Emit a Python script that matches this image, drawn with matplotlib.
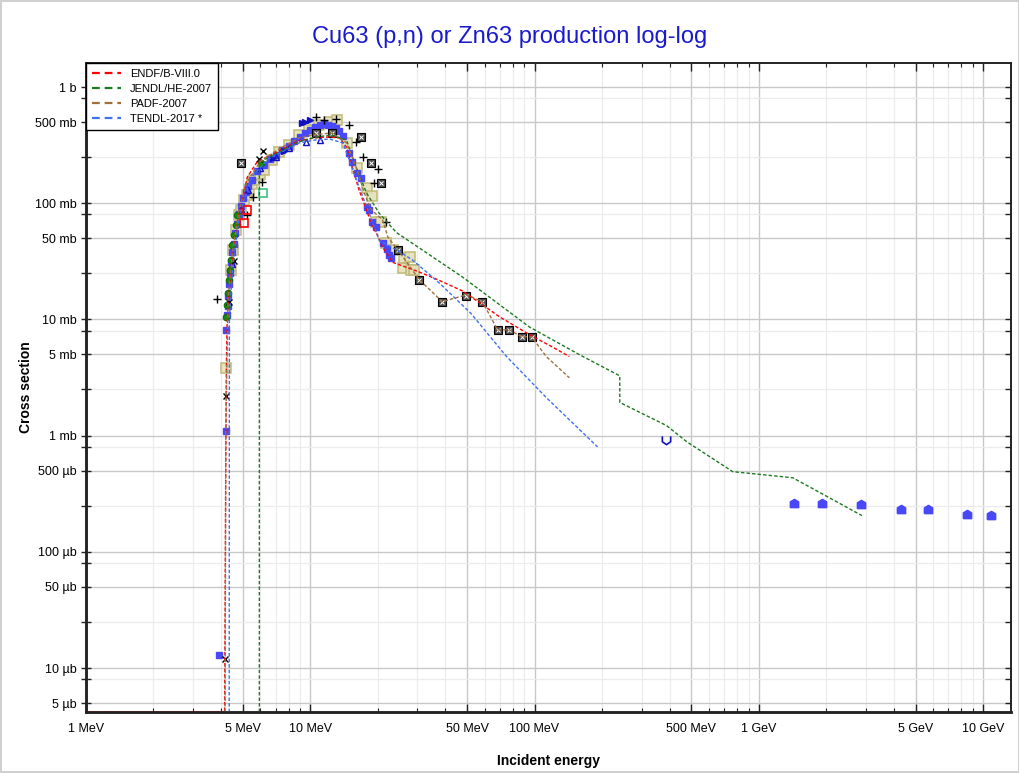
import numpy as np
import matplotlib.pyplot as plt
from matplotlib.path import Path
from matplotlib.lines import Line2D
from matplotlib.ticker import FixedLocator, FuncFormatter, NullFormatter

plt.rcParams['font.family'] = ['Liberation Sans', 'DejaVu Sans']

# evaluated curves, energy in MeV, cross section in mb
endf_e = [1.0, 4.15, 4.15, 4.2, 4.22, 4.25, 4.3, 4.4, 4.5, 4.65, 4.8, 5.0, 5.24, 5.8, 7.4, 8.9, 10.5, 12.2,
          13.5, 14.5, 15.4, 16.5, 17.8, 18.9, 19.7, 21.0, 23.3, 30.0, 37.0, 48.0, 70.0, 95.0, 120.0, 143.0]
endf_s = [0.0042, 0.0042, 0.004, 0.5, 3.0, 8.0, 14.0, 22.0, 35.0, 55.0, 80.0, 110.0, 168.0, 227.0, 287.0, 345.0,
          365.0, 372.0, 364.0, 305.0, 205.0, 130.0, 88.0, 63.0, 56.0, 42.0, 31.0, 26.0, 22.0, 17.5, 10.5, 7.4, 5.8, 4.8]

jendl_e = [5.93, 5.93, 6.3, 7.4, 8.9, 10.5, 12.5, 14.5, 16.0, 17.8, 20.3, 24.2, 47.7, 95.0, 159.0, 240.0, 240.0,
           388.0, 477.0, 765.0, 1418.0, 2884.0]
jendl_s = [0.003, 222.0, 240.0, 280.0, 337.0, 370.0, 387.0, 350.0, 205.0, 123.0, 82.0, 56.0, 23.2, 8.6, 4.96,
           3.27, 1.93, 1.22, 0.887, 0.49, 0.434, 0.205]

padf_e = [4.17, 4.2, 4.3, 4.5, 4.8, 5.2, 6.0, 7.4, 8.9, 10.5, 12.5, 14.5, 16.2, 17.4, 18.7, 21.0, 22.2, 24.5,
          30.7, 38.8, 49.7, 58.6, 68.4, 77.3, 87.5, 97.0, 113.0, 143.0]
padf_s = [0.003, 1.0, 15.0, 38.0, 85.0, 150.0, 230.0, 300.0, 364.0, 390.0, 402.0, 330.0, 193.0, 123.0, 88.0,
          72.0, 51.0, 40.0, 21.9, 14.2, 16.3, 14.2, 8.14, 8.14, 7.1, 7.1, 4.78, 3.15]

tendl_e = [4.35, 4.36, 4.45, 4.6, 4.8, 5.0, 5.5, 6.5, 8.9, 10.5, 12.2, 14.0, 14.9, 16.5, 18.3, 20.3, 24.2, 28.5,
           37.6, 52.0, 75.0, 113.0, 191.0]
tendl_s = [0.003, 10.0, 20.0, 40.0, 70.0, 100.0, 170.0, 240.0, 330.0, 350.0, 357.0, 330.0, 236.0, 138.0, 82.0,
           48.0, 39.7, 32.6, 20.6, 11.3, 4.8, 2.12, 0.80]

# experimental points
blue_e = [3.93, 4.2, 4.2, 4.25, 4.28, 4.3, 4.35, 4.4, 4.45, 4.5, 4.55, 4.62, 4.7, 4.8, 4.9, 5.0, 5.15, 5.3, 5.5,
          5.8, 6.2, 6.6, 7.0, 7.5, 8.0, 8.5, 9.0, 9.5, 10.0, 10.5, 11.0, 11.5, 12.0, 12.5, 13.0, 13.5, 14.0, 14.9,
          15.4, 16.2, 16.8, 18.0, 18.3, 18.9, 19.7, 21.0, 22.0, 22.5, 23.0]
blue_s = [0.013, 1.1, 8.1, 11.0, 13.0, 16.0, 20.0, 25.0, 31.0, 38.0, 45.0, 55.0, 66.0, 80.0, 95.0, 110.0, 125.0,
          140.0, 160.0, 190.0, 215.0, 240.0, 262.0, 285.0, 310.0, 340.0, 370.0, 400.0, 430.0, 450.0, 470.0, 480.0,
          470.0, 460.0, 440.0, 420.0, 380.0, 271.0, 227.0, 182.0, 165.0, 93.0, 87.6, 69.0, 62.0, 45.6, 40.0, 36.0, 33.9]

tri_e = [4.3, 4.5, 4.9, 5.3, 6.0, 7.0, 8.0, 9.6, 11.0]
tri_s = [14.0, 30.0, 90.0, 130.0, 200.0, 250.0, 300.0, 337.0, 350.0]
rtri_e = [6.8, 7.6, 9.2, 9.5, 10.0]
rtri_s = [245.0, 280.0, 490.0, 505.0, 520.0]

x_e = [4.17, 4.2, 4.35, 4.58, 5.93, 6.17]
x_s = [0.012, 2.2, 14.0, 32.0, 240.0, 282.0]

plus_e = [3.84, 5.23, 5.57, 6.1, 10.6, 11.5, 13.0, 14.9, 16.0, 17.1, 20.0, 19.3, 21.8]
plus_s = [15.0, 79.0, 113.0, 152.0, 552.0, 520.0, 535.0, 471.0, 337.0, 250.0, 197.0, 150.0, 69.0]

box_e = [4.93, 10.6, 12.5, 16.8, 18.7, 20.7, 24.5, 30.7, 38.8, 49.3, 58.6, 68.4, 77.3, 87.5, 97.0]
box_s = [222.0, 402.0, 402.0, 372.0, 222.0, 150.0, 39.7, 21.9, 14.2, 16.0, 14.2, 8.14, 8.14, 7.1, 7.1]

olive_e = [4.2, 4.44, 4.53, 4.68, 4.82, 4.9, 5.08, 5.2, 5.34, 5.5, 5.63, 5.93, 6.0, 6.23, 6.72, 7.27, 8.05, 8.92,
           9.88, 10.95, 12.1, 13.2, 14.6, 16.2, 18.0, 18.9, 19.7, 20.7, 21.8, 23.3, 25.8, 26.3, 27.9, 28.1, 29.1]
olive_s = [3.8, 26.7, 39.7, 59.0, 79.0, 88.0, 107.0, 118.0, 130.0, 145.0, 159.0, 175.0, 180.0, 193.0, 236.0,
           275.0, 317.0, 387.0, 427.0, 471.0, 500.0, 520.0, 330.0, 200.0, 135.0, 115.0, 69.0, 69.0, 45.6, 39.7,
           27.8, 33.9, 34.4, 26.7, 26.7]

green_e = [4.2, 4.26, 4.3, 4.35, 4.4, 4.44, 4.49, 4.58, 4.68, 4.72, 6.05]
green_s = [10.4, 13.3, 17.0, 22.0, 26.7, 32.6, 43.8, 53.4, 65.0, 79.0, 222.0]

red_e = [5.08, 5.2]
red_s = [68.0, 88.0]
lgreen_e = [6.17]
lgreen_s = [122.0]
cup_e = [385.0]
cup_s = [0.92]
house_e = [1434.0, 1911.0, 2853.0, 4305.0, 5680.0, 8490.0, 10860.0]
house_s = [0.265, 0.265, 0.258, 0.235, 0.235, 0.213, 0.208]

xticks = [1, 5, 10, 50, 100, 500, 1000, 5000, 10000]
xlabels = ['1 MeV', '5 MeV', '10 MeV', '50 MeV', '100 MeV', '500 MeV', '1 GeV', '5 GeV', '10 GeV']
yticks = [1000, 500, 100, 50, 10, 5, 1, 0.5, 0.1, 0.05, 0.01, 0.005]
ylabels = ['1 b', '500 mb', '100 mb', '50 mb', '10 mb', '5 mb', '1 mb', '500 µb', '100 µb', '50 µb',
           '10 µb', '5 µb']
names = ['ENDF/B-VIII.0', 'JENDL/HE-2007', 'PADF-2007', 'TENDL-2017 *']
colors = ['#ff0000', '#1e7a1e', '#a0703c', '#4070f0']

house = Path([(-1, -1), (1, -1), (1, 0.4), (0, 1), (-1, 0.4), (-1, -1)])
cup = Path([(-1, 1), (-1, -0.3), (0, -1), (1, -0.3), (1, 1)])

fig = plt.figure(figsize=(10.2, 7.73), dpi=100)
fig.patch.set_edgecolor('#d0d0d0')
fig.patch.set_linewidth(1.5)
ax = fig.add_axes([0.0843, 0.079, 0.9067, 0.8395])
ax.set_xscale('log')
ax.set_yscale('log')
ax.set_xlim(1, 13300)
ax.set_ylim(0.00419, 1610)

ax.plot(olive_e, olive_s, 's', ms=6.5, mfc='#e4e0b8', mec='#c0b878', mew=1.2, alpha=0.9, zorder=3)
ax.plot(blue_e, blue_s, 's', ms=5, mfc='#4848f8', mec='#4848f8', zorder=3)
ax.plot(tri_e, tri_s, '^', ms=5, mfc='none', mec='#1010c0', mew=1, zorder=3)
ax.plot(rtri_e, rtri_s, '>', ms=5, mfc='#1010c0', mec='#1010c0', zorder=3)
ax.plot(green_e, green_s, 'o', ms=4.5, mfc='#109010', mec='#107010', zorder=3)
ax.plot(x_e, x_s, 'x', ms=5, color='black', mew=1, zorder=4)
ax.plot(plus_e, plus_s, '+', ms=6, color='black', mew=1, zorder=4)
ax.plot(box_e, box_s, 's', ms=6, mfc='#505050', mec='black', mew=0.8, zorder=4)
ax.plot(box_e, box_s, 'x', ms=3.5, color='white', mew=0.7, zorder=4)
ax.plot(red_e, red_s, 's', ms=6, mfc='none', mec='red', mew=1.2, zorder=4)
ax.plot(lgreen_e, lgreen_s, 's', ms=6, mfc='none', mec='#40c080', mew=1.2, zorder=4)
ax.plot(cup_e, cup_s, marker=cup, ls='none', ms=6, mfc='none', mec='#1010c0', mew=1.2, zorder=4)
ax.plot(house_e, house_s, marker=house, ls='none', ms=6, mfc='#4848f8', mec='#4848f8', zorder=4)

dash = (2.5, 1.5)
for e, s, c in zip([endf_e, jendl_e, padf_e, tendl_e], [endf_s, jendl_s, padf_s, tendl_s], colors):
    ax.plot(e, s, color=c, lw=1, dashes=dash, zorder=5)

ax.xaxis.set_major_locator(FixedLocator(xticks))
ax.xaxis.set_major_formatter(FuncFormatter(lambda v, p: xlabels[xticks.index(v)] if v in xticks else ''))
xminor = [m * 10.0 ** k for k in range(0, 5) for m in (2, 3, 4, 6, 7, 8, 9)]
ax.xaxis.set_minor_locator(FixedLocator(xminor))
ax.xaxis.set_minor_formatter(NullFormatter())

yminor = [m * 10.0 ** k for k in range(-3, 4) for m in (2.5, 8)]
ax.yaxis.set_major_locator(FixedLocator(yticks))
ax.yaxis.set_major_formatter(FuncFormatter(lambda v, p: ylabels[yticks.index(v)] if v in yticks else ''))
ax.yaxis.set_minor_locator(FixedLocator(yminor))
ax.yaxis.set_minor_formatter(NullFormatter())

ax.grid(True, which='major', color='#c8c8c8', lw=1)
ax.grid(True, which='minor', color='#ececec', lw=0.9)
ax.set_axisbelow(True)

ax.tick_params(axis='both', which='both', labelsize=9, top=True, color='#222222')
ax.tick_params(axis='y', which='both', direction='inout', length=7, width=1, right=False)
ax.tick_params(axis='x', which='major', direction='in', length=6, width=1, pad=8)
ax.tick_params(axis='x', which='minor', direction='in', length=3, width=0.8)

# right side ticks point inward only
axr = ax.twinx()
axr.set_yscale('log')
axr.set_ylim(ax.get_ylim())
axr.yaxis.set_major_locator(FixedLocator(yticks))
axr.yaxis.set_minor_locator(FixedLocator(yminor))
axr.yaxis.set_major_formatter(NullFormatter())
axr.yaxis.set_minor_formatter(NullFormatter())
axr.tick_params(axis='y', which='both', direction='in', length=4, width=1, color='#222222')

for a in (ax, axr):
    for s in a.spines.values():
        s.set_color('#222222')
        s.set_linewidth(1.2)
    a.spines['left'].set_linewidth(1.8)
    a.spines['bottom'].set_linewidth(1.8)

ax.set_xlabel('Incident energy', fontsize=10, fontweight='bold', labelpad=14)
ax.set_ylabel('Cross section', fontsize=10, fontweight='bold', labelpad=1)
fig.suptitle('Cu63 (p,n) or Zn63 production log-log', x=0.5, y=0.967, fontsize=17, color='#1a1acc')

handles = [Line2D([], [], color=c, lw=1.6, dashes=(3.5, 2.2)) for c in colors]
leg = axr.legend(handles, names, loc='upper left', bbox_to_anchor=(0, 1), borderaxespad=0, fontsize=8,
                 fancybox=False, framealpha=1, edgecolor='black', handlelength=2.6, labelspacing=0.45,
                 borderpad=0.55)
leg.get_frame().set_linewidth(1)

fig.savefig('out.png', dpi=100)
